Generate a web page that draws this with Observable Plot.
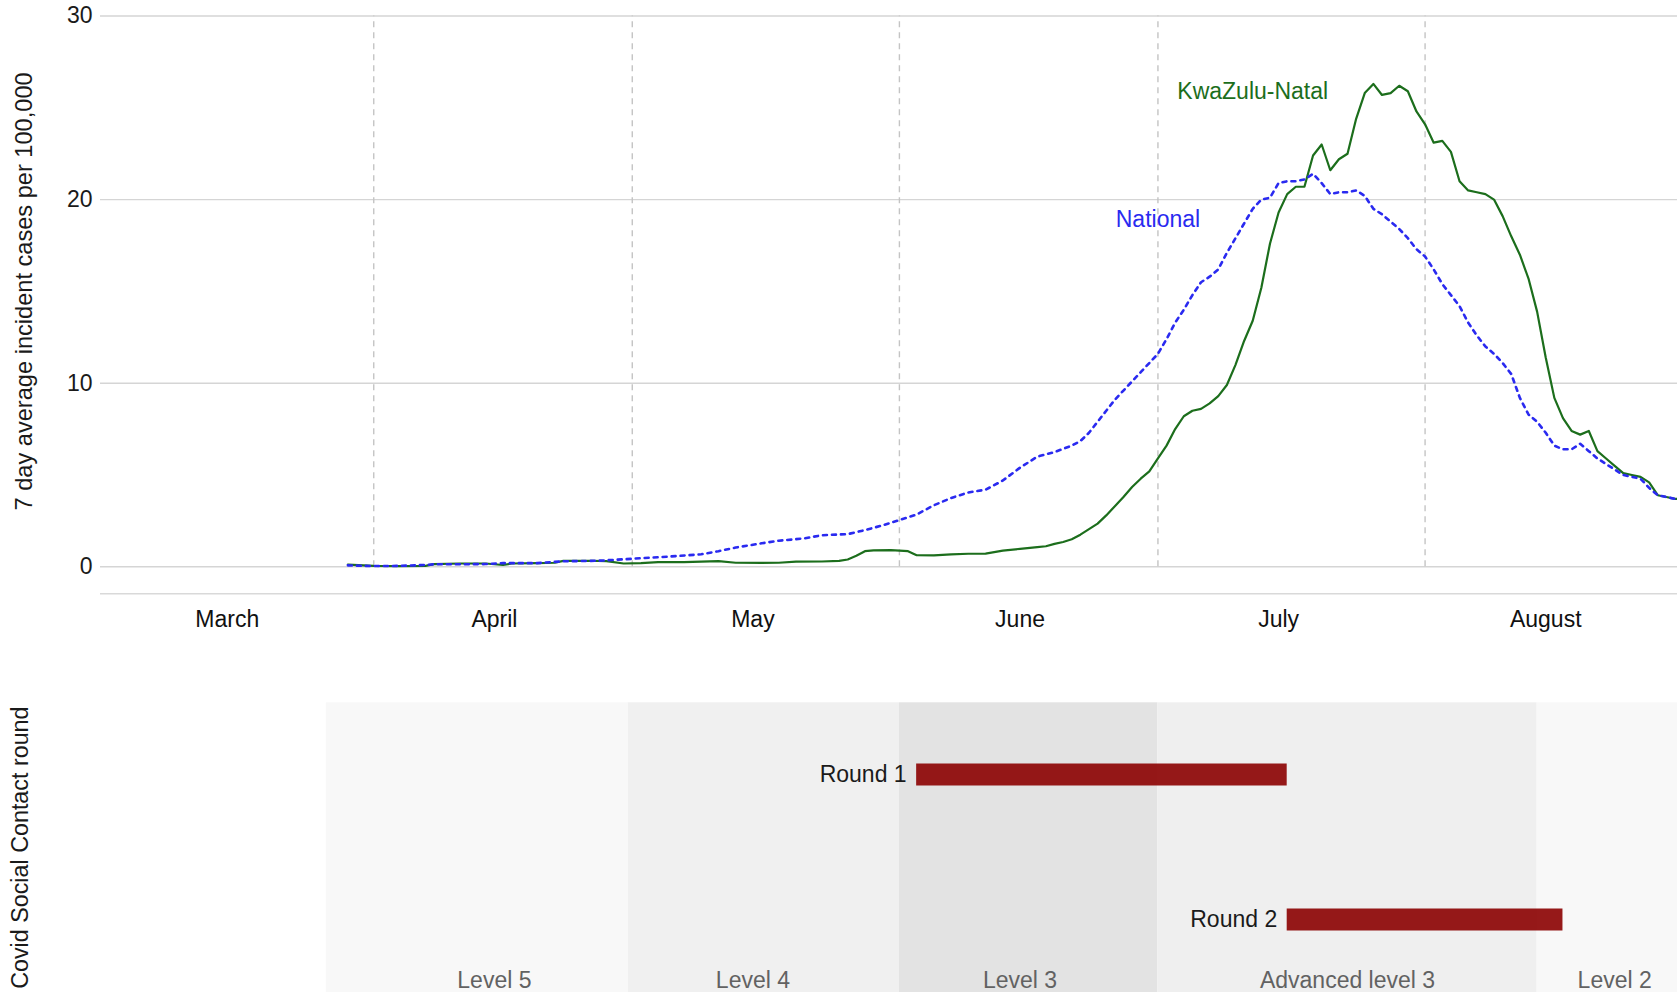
<!DOCTYPE html>
<html>
<head>
<meta charset="utf-8">
<script src="https://cdn.jsdelivr.net/npm/d3@7"></script>
<script src="https://cdn.jsdelivr.net/npm/@observablehq/plot@0.6"></script>
<style>
  html, body { margin: 0; padding: 0; background: #ffffff; }
  #chart { width: 1677px; height: 992px; overflow: hidden; }
  #chart svg { display: block; }
</style>
</head>
<body>
<div id="chart"></div>
<script>
// ---------------- DATA ----------------
const YEAR = "2020";

// KwaZulu-Natal: 7 day average incident cases per 100,000
const kznSeries = [
  ["03-29",0.12],["04-01",0.05],["04-04",0.04],["04-07",0.05],["04-08",0.15],["04-11",0.18],["04-14",0.18],
  ["04-16",0.10],["04-17",0.18],["04-20",0.20],["04-22",0.22],["04-23",0.32],["04-26",0.33],["04-28",0.31],
  ["04-30",0.18],["05-02",0.20],["05-04",0.25],["05-07",0.26],["05-09",0.28],["05-11",0.31],["05-13",0.22],
  ["05-16",0.21],["05-18",0.22],["05-20",0.28],["05-23",0.29],["05-25",0.32],["05-26",0.40],["05-27",0.60],
  ["05-28",0.85],["05-29",0.90],["05-31",0.91],["06-01",0.88],["06-02",0.85],["06-03",0.63],["06-05",0.62],
  ["06-07",0.68],["06-09",0.71],["06-11",0.72],["06-12",0.80],["06-13",0.88],["06-15",0.98],["06-17",1.07],
  ["06-18",1.12],["06-19",1.25],["06-20",1.35],["06-21",1.50],["06-22",1.75],["06-23",2.05],["06-24",2.35],
  ["06-25",2.80],["06-26",3.30],["06-27",3.80],["06-28",4.35],["06-29",4.80],["06-30",5.20],
  ["07-01",5.9],["07-02",6.6],["07-03",7.5],["07-04",8.2],["07-05",8.5],["07-06",8.6],["07-07",8.9],
  ["07-08",9.3],["07-09",9.9],["07-10",11.0],["07-11",12.3],["07-12",13.4],["07-13",15.2],["07-14",17.6],
  ["07-15",19.3],["07-16",20.3],["07-17",20.7],["07-18",20.7],["07-19",22.4],["07-20",23.0],["07-21",21.6],
  ["07-22",22.2],["07-23",22.5],["07-24",24.4],["07-25",25.8],["07-26",26.3],["07-27",25.7],["07-28",25.8],
  ["07-29",26.2],["07-30",25.9],["07-31",24.8],
  ["08-01",24.1],["08-02",23.1],["08-03",23.2],["08-04",22.6],["08-05",21.0],["08-06",20.5],["08-07",20.4],
  ["08-08",20.3],["08-09",20.0],["08-10",19.1],["08-11",18.0],["08-12",17.0],["08-13",15.7],["08-14",13.9],
  ["08-15",11.4],["08-16",9.2],["08-17",8.1],["08-18",7.4],["08-19",7.2],["08-20",7.4],["08-21",6.3],
  ["08-22",5.9],["08-23",5.5],["08-24",5.1],["08-25",5.0],["08-26",4.9],["08-27",4.6],["08-28",3.9],
  ["08-29",3.8],["08-30",3.7],["08-31",3.7]
];

// National: 7 day average incident cases per 100,000
const nationalSeries = [
  ["03-29",0.08],["04-01",0.04],["04-04",0.05],["04-07",0.10],["04-08",0.14],["04-11",0.14],["04-14",0.15],
  ["04-16",0.20],["04-20",0.20],["04-23",0.30],["04-27",0.33],["04-29",0.38],["05-01",0.44],["05-04",0.52],
  ["05-06",0.58],["05-09",0.68],["05-11",0.85],["05-13",1.05],["05-16",1.28],["05-18",1.42],["05-21",1.55],
  ["05-23",1.72],["05-26",1.78],["05-28",2.00],["05-30",2.25],["06-01",2.55],["06-03",2.85],["06-05",3.35],
  ["06-07",3.75],["06-09",4.05],["06-11",4.20],["06-13",4.70],["06-15",5.40],["06-17",6.00],["06-19",6.25],
  ["06-21",6.60],["06-22",6.85],["06-23",7.30],["06-24",7.90],["06-25",8.50],["06-26",9.10],["06-27",9.60],
  ["06-28",10.1],["06-29",10.6],["06-30",11.1],
  ["07-01",11.6],["07-02",12.4],["07-03",13.3],["07-04",14.0],["07-05",14.8],["07-06",15.5],["07-07",15.8],
  ["07-08",16.2],["07-09",17.1],["07-10",17.9],["07-11",18.7],["07-12",19.5],["07-13",20.0],["07-14",20.1],
  ["07-15",20.9],["07-16",21.0],["07-17",21.0],["07-18",21.1],["07-19",21.4],["07-20",20.9],["07-21",20.3],
  ["07-22",20.4],["07-23",20.4],["07-24",20.5],["07-25",20.2],["07-26",19.5],["07-27",19.2],["07-28",18.8],
  ["07-29",18.4],["07-30",17.9],["07-31",17.3],
  ["08-01",16.9],["08-02",16.2],["08-03",15.4],["08-04",14.8],["08-05",14.2],["08-06",13.3],["08-07",12.6],
  ["08-08",12.0],["08-09",11.6],["08-10",11.1],["08-11",10.5],["08-12",9.2],["08-13",8.3],["08-14",7.9],
  ["08-15",7.3],["08-16",6.6],["08-17",6.4],["08-18",6.4],["08-19",6.7],["08-20",6.3],["08-21",5.9],
  ["08-22",5.6],["08-23",5.3],["08-24",5.0],["08-25",4.9],["08-26",4.8],["08-27",4.3],["08-28",3.9],
  ["08-29",3.8],["08-30",3.7],["08-31",3.7]
];

const seriesNames = ["KwaZulu-Natal", "National"];
const seriesLabelDates = ["07-12", "07-01"];
const seriesLabelValues = [25.9, 18.9];

const yTicks = [0, 10, 20, 30];
const monthStarts = ["04-01", "05-01", "06-01", "07-01", "08-01"];
const monthLabelDates = ["03-15", "04-15", "05-15", "06-15", "07-15", "08-15"];
const xStart = "02-29T07";
const xEnd = "08-30T07";

const levelNames = ["Level 5", "Level 4", "Level 3", "Advanced level 3", "Level 2"];
const levelStarts = ["03-26T12", "04-30T13", "06-01", "07-01", "08-14"];
const levelEnds = ["04-30T13", "06-01", "07-01", "08-14", "09-02"];
const levelLabelDates = ["04-15", "05-15", "06-15", "07-23", "08-23"];

const roundNames = ["Round 1", "Round 2"];
const roundStarts = ["06-03", "07-16"];
const roundEnds = ["07-16", "08-17"];

const yTitle = "7 day average incident cases per 100,000";
const roundTitle = "Covid Social Contact round";

// ---------------- STYLES ----------------
const FONT = "'Liberation Sans', Arial, Helvetica, sans-serif";
const kznColor = "#1c6e1c";
const nationalColor = "#2a2af0";
const levelShades = ["#f8f8f8", "#f0f0f0", "#e3e3e3", "#efefef", "#f8f8f8"];
const barColor = "#8b0000";

// ---------------- BUILD ----------------
const parseDay = d3.utcParse("%Y-%m-%d");
const parseHour = d3.utcParse("%Y-%m-%dT%H");
const day = s => (s.includes("T") ? parseHour : parseDay)(YEAR + "-" + s);
const toRows = arr => arr.map(([d, v]) => ({date: day(d), value: v}));
const kzn = toRows(kznSeries);
const national = toRows(nationalSeries);
const seriesLabels = seriesNames.map((n, i) => ({name: n, date: day(seriesLabelDates[i]), value: seriesLabelValues[i]}));
const levels = levelNames.map((n, i) => ({name: n, start: day(levelStarts[i]), end: day(levelEnds[i]), label: day(levelLabelDates[i])}));
const rounds = roundNames.map((n, i) => ({name: n, start: day(roundStarts[i]), end: day(roundEnds[i])}));
const xDomain = [day(xStart), day(xEnd)];

const W = 1677;
const yLow = -1.47;

const topChart = Plot.plot({
  width: W,
  height: 650,
  marginLeft: 100,
  marginRight: 0,
  marginTop: 15.5,
  marginBottom: 650 - 593.3,
  style: {fontFamily: FONT, fontSize: "23px", color: "#1a1a1a", background: "transparent", overflow: "visible"},
  x: {type: "utc", domain: xDomain},
  y: {domain: [yLow, 30]},
  marks: [
    Plot.ruleY(yTicks, {stroke: "#d5d5d5", strokeWidth: 1.4}),
    Plot.ruleY([yLow], {stroke: "#d9d9d9", strokeWidth: 1.4}),
    Plot.ruleX(monthStarts.map(day), {y1: 0, y2: 30, stroke: "#c4c4c4", strokeWidth: 1.4, strokeDasharray: "6,5"}),
    Plot.axisY({ticks: yTicks, tickSize: 0, tickPadding: 8, label: null, fontSize: 23, fill: "#1a1a1a"}),
    Plot.axisX({ticks: monthLabelDates.map(day), tickFormat: d3.utcFormat("%B"), tickSize: 0, tickPadding: 17, label: null, fontSize: 23, fill: "#111"}),
    Plot.line(kzn, {x: "date", y: "value", stroke: kznColor, strokeWidth: 2.2, clip: true}),
    Plot.line(national, {x: "date", y: "value", stroke: nationalColor, strokeWidth: 2.6, strokeDasharray: "4,5", clip: true}),
    Plot.text(seriesLabels, {filter: d => d.name === "KwaZulu-Natal", x: "date", y: "value", text: "name", fill: kznColor, fontSize: 23}),
    Plot.text(seriesLabels, {filter: d => d.name === "National", x: "date", y: "value", text: "name", fill: nationalColor, fontSize: 23}),
    Plot.text([yTitle], {frameAnchor: "left", y: [15], rotate: -90, dx: -76, fontSize: 23.6, fill: "#1a1a1a", textAnchor: "middle"})
  ]
});

const bottomChart = Plot.plot({
  width: W,
  height: 342,
  marginLeft: 100,
  marginRight: 0,
  marginTop: 52.3,
  marginBottom: 0,
  style: {fontFamily: FONT, fontSize: "23px", color: "#1a1a1a", background: "transparent", overflow: "visible"},
  x: {type: "utc", domain: xDomain, axis: null},
  y: {type: "point", domain: roundNames, range: [124, 269.5], padding: 0, axis: null},
  color: {type: "ordinal", domain: levelNames, range: levelShades},
  marks: [
    Plot.rect(levels, {x1: "start", x2: "end", fill: "name"}),
    Plot.text(levels, {x: "label", text: "name", frameAnchor: "bottom", lineAnchor: "bottom", dy: -5, fill: "#626262", fontSize: 23}),
    Plot.ruleY(rounds, {y: "name", x1: "start", x2: "end", stroke: barColor, strokeOpacity: 0.9, strokeWidth: 22}),
    Plot.text(rounds, {x: "start", y: "name", text: "name", textAnchor: "end", dx: -10, fill: "#1a1a1a", fontSize: 23}),
    Plot.text([roundTitle], {frameAnchor: "left", rotate: -90, dx: -80, fontSize: 23.3, fill: "#1a1a1a", textAnchor: "middle"})
  ]
});

const chart = document.getElementById("chart");
chart.appendChild(topChart);
chart.appendChild(bottomChart);
</script>
</body>
</html>
